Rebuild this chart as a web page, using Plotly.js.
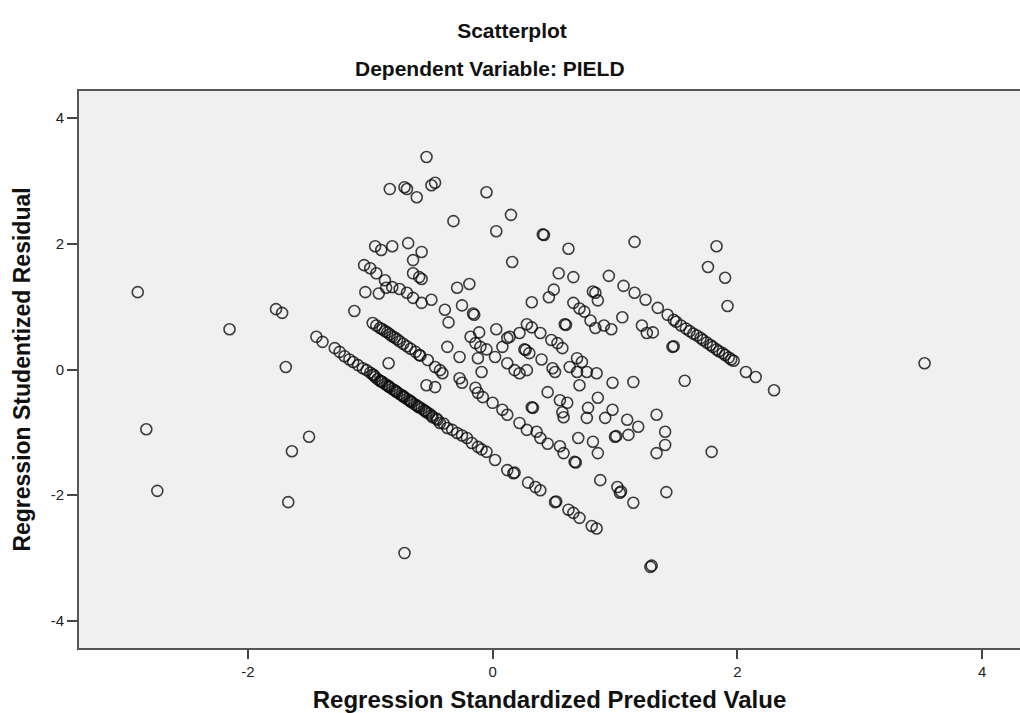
<!DOCTYPE html>
<html>
<head>
<meta charset="utf-8">
<script src="https://cdn.plot.ly/plotly-3.0.1.min.js"></script>
<style>html,body{margin:0;padding:0;background:#fff;}#chart{width:1020px;height:713px;}</style>
</head>
<body>
<div id="chart"></div>
<script>
// Regression Standardized Predicted Value (x) and Regression Studentized Residual (y)
var outlierX = [-2.90,-2.15,-1.77,-1.72,-1.69,-2.83,-2.74,-1.50,-1.64,-1.67,-0.72,1.29,1.30,3.53,1.83,1.76,1.90,1.92,1.57,1.79,-0.85,-1.13,-1.04,-0.93];
var outlierY = [1.23,0.64,0.96,0.90,0.04,-0.95,-1.93,-1.07,-1.30,-2.11,-2.92,-3.14,-3.12,0.10,1.96,1.63,1.46,1.01,-0.18,-1.31,0.10,0.93,1.23,1.21];

var topX = [-0.54,-0.84,-0.72,-0.70,-0.62,-0.50,-0.47,-0.05,-0.32,0.15,0.03,0.41,0.42,0.62,1.16,0.16,-0.69,-0.82,-0.96,-0.91,-0.58,-0.65,0.54,0.66];
var topY = [3.38,2.87,2.90,2.87,2.74,2.93,2.97,2.82,2.36,2.46,2.20,2.15,2.14,1.92,2.03,1.71,2.01,1.96,1.96,1.90,1.87,1.74,1.53,1.47];

var upperLeftX = [-1.05,-1.00,-0.95,-0.88,-0.87,-0.82,-0.76,-0.70,-0.65,-0.58,-0.65,-0.60,-0.58,-0.50];
var upperLeftY = [1.66,1.61,1.53,1.42,1.30,1.31,1.28,1.22,1.14,1.06,1.53,1.47,1.44,1.11];

var midX = [-0.29,-0.19,-0.39,-0.36,-0.25,-0.16,-0.15,0.50,0.46,0.32,0.82,0.84,0.86,0.66,0.71,0.75,0.80,1.06,0.84,0.91,0.97,1.22,1.26,1.31,1.47,0.59,0.60,0.28,0.32,0.22,0.14,0.12,0.03,-0.11,-0.18,-0.14,-0.10,-0.05,0.02,0.08,0.26,0.27,0.30,0.39,0.48,0.53,0.57,0.40,0.49,0.12,0.18,0.69,0.73,0.63,0.77,0.85,-0.37,-0.27,-0.12,-0.09];
var midY = [1.30,1.36,0.95,0.75,1.02,0.89,0.87,1.27,1.15,1.07,1.24,1.22,1.10,1.06,0.97,0.92,0.78,0.83,0.66,0.70,0.64,0.70,0.58,0.59,0.36,0.72,0.71,0.72,0.67,0.58,0.52,0.50,0.64,0.59,0.52,0.42,0.36,0.32,0.20,0.36,0.32,0.31,0.26,0.58,0.47,0.42,0.34,0.16,0.02,0.10,-0.01,0.18,0.12,0.04,-0.04,-0.06,0.36,0.20,0.18,-0.04];

var lowMidX = [-0.54,-0.47,-0.27,-0.25,0.22,0.28,0.45,0.51,0.55,0.61,0.57,0.58,0.71,0.69,0.86,0.78,0.77,0.92,0.98,1.00,1.01,1.10,1.19,1.11,1.34,1.41,1.41,1.34,0.82,0.86,0.70,0.88,1.02,1.04,1.05,1.15,1.42,0.98,1.15,0.32,0.33];
var lowMidY = [-0.25,-0.28,-0.14,-0.21,-0.06,-0.01,-0.36,-0.04,-0.49,-0.53,-0.68,-0.76,-0.25,-0.04,-0.45,-0.61,-0.77,-0.77,-0.64,-1.07,-1.06,-0.80,-0.91,-1.04,-0.72,-0.99,-1.20,-1.33,-1.15,-1.33,-1.09,-1.76,-1.87,-1.96,-1.94,-2.12,-1.95,-0.21,-0.20,-0.60,-0.61];

var bandBX = [-0.98,-0.95,-0.92,-0.90,-0.88,-0.86,-0.84,-0.82,-0.80,-0.78,-0.76,-0.73,-0.70,-0.67,-0.63,-0.60,-0.59,-0.53,-0.47,-0.43,-0.41,-0.14,-0.12,-0.08,0.00,0.08,0.12,0.22,0.28,0.36,0.39,0.45,0.55,0.58,0.67,0.68];
var bandBY = [0.74,0.70,0.66,0.64,0.61,0.59,0.56,0.53,0.51,0.48,0.45,0.41,0.37,0.33,0.28,0.23,0.22,0.15,0.04,-0.01,-0.06,-0.29,-0.37,-0.44,-0.53,-0.64,-0.72,-0.85,-0.96,-0.99,-1.09,-1.18,-1.22,-1.33,-1.47,-1.48];

var bandAX = [-1.44,-1.39,-1.29,-1.25,-1.21,-1.17,-1.14,-1.10,-1.06,-1.03,-1.00,-0.98,-0.96,-0.94,-0.92,-0.90,-0.88,-0.86,-0.84,-0.82,-0.80,-0.78,-0.76,-0.74,-0.72,-0.70,-0.68,-0.66,-0.64,-0.62,-0.60,-0.58,-0.56,-0.54,-0.52,-0.49,-0.46,-0.43,-0.40,-0.37,-0.33,-0.29,-0.25,-0.21,-0.17,-0.12,-0.09,-0.05,0.02,0.12,0.17,0.18,0.29,0.35,0.39,0.51,0.52,0.62,0.66,0.71,0.81,0.85,-0.97,-0.91,-0.85,-0.79,-0.73,-0.67,-0.61,-0.55,-0.50,-0.45];
var bandAY = [0.52,0.44,0.34,0.28,0.21,0.16,0.12,0.07,0.02,-0.01,-0.05,-0.08,-0.12,-0.15,-0.18,-0.20,-0.23,-0.25,-0.28,-0.31,-0.33,-0.36,-0.39,-0.41,-0.44,-0.47,-0.49,-0.52,-0.55,-0.57,-0.60,-0.62,-0.65,-0.68,-0.70,-0.76,-0.78,-0.85,-0.86,-0.93,-0.96,-1.01,-1.05,-1.09,-1.17,-1.23,-1.27,-1.31,-1.44,-1.60,-1.65,-1.64,-1.80,-1.87,-1.92,-2.11,-2.10,-2.23,-2.28,-2.36,-2.49,-2.53,-0.09,-0.19,-0.27,-0.35,-0.43,-0.51,-0.59,-0.66,-0.73,-0.80];

var bandDX = [0.95,1.07,1.16,1.25,1.35,1.43,1.48,1.50,1.54,1.58,1.61,1.64,1.67,1.70,1.72,1.75,1.78,1.80,1.83,1.85,1.88,1.90,1.93,1.95,1.97,2.07,2.15,2.30,1.48];
var bandDY = [1.49,1.33,1.22,1.11,0.98,0.87,0.79,0.76,0.70,0.65,0.61,0.57,0.54,0.50,0.47,0.43,0.39,0.36,0.32,0.29,0.26,0.23,0.19,0.16,0.14,-0.04,-0.12,-0.33,0.37];

var predicted = [].concat(outlierX, topX, upperLeftX, midX, lowMidX, bandBX, bandAX, bandDX);
var residual = [].concat(outlierY, topY, upperLeftY, midY, lowMidY, bandBY, bandAY, bandDY);

var xTicks = [-2, 0, 2, 4];
var yTicks = [-4, -2, 0, 2, 4];

var font = 'Liberation Sans, Arial, sans-serif';

var trace = {
  x: predicted,
  y: residual,
  type: 'scatter',
  mode: 'markers',
  marker: {symbol: 'circle-open', size: 11, color: 'rgba(10,10,10,0.78)', line: {width: 1.6}},
  hoverinfo: 'x+y'
};

var layout = {
  width: 1020,
  height: 713,
  margin: {l: 79, r: 0, t: 91, b: 65},
  paper_bgcolor: '#ffffff',
  plot_bgcolor: '#f0f0f0',
  showlegend: false,
  title: {
    text: '<b>Scatterplot</b>',
    font: {family: font, size: 21, color: '#111'},
    xref: 'container', x: 512 / 1020, xanchor: 'center',
    yref: 'container', y: 1 - 31/713, yanchor: 'middle'
  },
  annotations: [{
    text: '<b>Dependent Variable: PIELD</b>',
    font: {family: font, size: 21, color: '#111'},
    xref: 'paper', x: (490 - 79) / 941, xanchor: 'center',
    yref: 'paper', y: (648 - 69) / 557, yanchor: 'middle',
    showarrow: false
  }],
  xaxis: {
    range: [-3.38, 4.31],
    tickvals: xTicks,
    ticktext: xTicks.map(String),
    ticks: 'outside', ticklen: 9, tickwidth: 2, tickcolor: '#444',
    showline: true, linecolor: '#555', linewidth: 2, mirror: true,
    showgrid: false, zeroline: false,
    tickfont: {family: font, size: 15, color: '#222'},
    title: {text: '<b>Regression Standardized Predicted Value</b>', font: {family: font, size: 24, color: '#111'}, standoff: 14}
  },
  yaxis: {
    range: [-4.43, 4.43],
    tickvals: yTicks,
    ticktext: yTicks.map(String),
    ticks: 'outside', ticklen: 10, tickwidth: 2, tickcolor: '#444',
    showline: true, linecolor: '#555', linewidth: 2,
    showgrid: false, zeroline: false,
    tickfont: {family: font, size: 15, color: '#222'},
    title: {text: '<b>Regression Studentized Residual</b>', font: {family: font, size: 23, color: '#111'}, standoff: 14}
  }
};

Plotly.newPlot('chart', [trace], layout, {displayModeBar: false, responsive: false});
</script>
</body>
</html>
